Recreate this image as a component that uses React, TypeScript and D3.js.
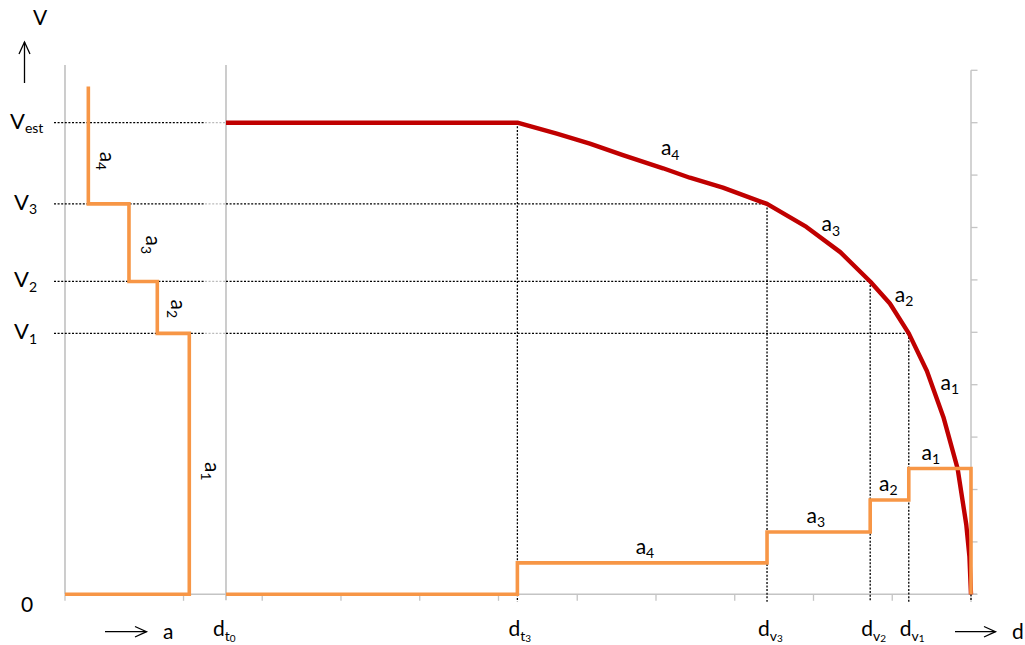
import React from "react";
import * as d3 from "d3";

// ---- data ----
const speedNames = ["est", "3", "2", "1"];
const speedValues = [9.0, 7.45, 5.97, 4.98];
const markNames = ["t3", "v3", "v2", "v1"];
const markD = [3.7, 6.87, 8.18, 8.67];
const dEnd = 9.46;
const accelNames = ["4", "3", "2", "1"];
const accelLevels = [0.6, 1.19, 1.8, 2.4];
const leftStepA = [0.445, 1.22, 1.76, 2.37];
const leftTopV = 9.69;
const curveD = [0, 3.7, 4.2, 4.62, 5.04, 5.55, 5.89, 6.31, 6.87, 7.37, 7.8, 8.18, 8.43, 8.67, 8.9, 9.11, 9.29, 9.4, 9.44, 9.46];
const curveV = [9.0, 9.0, 8.79, 8.6, 8.38, 8.13, 7.95, 7.76, 7.45, 7.01, 6.53, 5.97, 5.55, 4.98, 4.26, 3.38, 2.4, 1.33, 0.72, 0];
const dTicks = [0.46, 1.46, 2.46, 3.46, 4.46, 5.46, 6.46, 7.46, 8.46, 9.46];
const aTicks = [0, 2.26];
const vTicks = [0, 1, 2, 3, 4, 5, 6, 7, 8, 9, 10];

const FONT = "Lato, 'Open Sans', sans-serif";
const RED = "#C00000";
const ORANGE = "#F79646";
const GRAY = "#C4C4C4";

const y = d3.scaleLinear().domain([0, 10]).range([594.3, 70.3]);
const xd = d3.scaleLinear().domain([0, dEnd]).range([226, 971]);
const xa = d3.scaleLinear().domain([0, 3.07]).range([65, 226]);

const line = d3.line<[number, number]>().x((p) => p[0]).y((p) => p[1]);

function Sub({ x, y: yy, main, sub, sub2, anchor = "start", size = 21 }: any) {
  return (
    <text x={x} y={yy} fontFamily={FONT} fontSize={size} fill="#000" textAnchor={anchor}>
      {main}
      <tspan dy={4.5} fontSize={14}>{sub}</tspan>
      {sub2 ? <tspan dy={1.5} fontSize={10}>{sub2}</tspan> : null}
    </text>
  );
}

export default function App() {
  const redPts: [number, number][] = curveD.map((d, i) => [xd(d), y(curveV[i])]);

  const orangePts: [number, number][] = [[xd(0), y(0)], [xd(markD[0]), y(0)]];
  accelLevels.forEach((lv, i) => {
    const x0 = xd(markD[i]);
    const x1 = i < markD.length - 1 ? xd(markD[i + 1]) : xd(dEnd);
    orangePts.push([x0, y(lv)], [x1, y(lv)]);
  });
  orangePts.push([xd(dEnd), y(0)]);

  const uppers = [leftTopV, speedValues[1], speedValues[2], speedValues[3]];
  const lowers = [speedValues[1], speedValues[2], speedValues[3], 0];
  const leftPts: [number, number][] = [];
  leftStepA.forEach((a, i) => {
    leftPts.push([xa(a), y(uppers[i])], [xa(a), y(lowers[i])]);
  });
  leftPts.push([xa(0), y(0)]);

  const markV = speedValues;
  const dotted = { stroke: "#000", strokeWidth: 1.3, strokeDasharray: "2 1.6", fill: "none" };
  const fadeDotted = { stroke: "#BBBBBB", strokeWidth: 1.3, strokeDasharray: "2 1.6", fill: "none" };

  return (
    <svg width={1025} height={645} style={{ position: "absolute", left: 0, top: 0, background: "#fff" }}>
      <line x1={xa(0)} x2={xa(0)} y1={y(10.1)} y2={y(0)} stroke={GRAY} strokeWidth={1.7} />
      <line x1={xd(0)} x2={xd(0)} y1={y(10.1)} y2={y(0) + 6} stroke={GRAY} strokeWidth={1.7} />
      <line x1={xd(dEnd)} x2={xd(dEnd)} y1={y(10)} y2={y(0)} stroke={GRAY} strokeWidth={1.5} />
      {vTicks.map((v) => (
        <line key={"vt" + v} x1={xd(dEnd)} x2={xd(dEnd) + 6.5} y1={y(v)} y2={y(v)} stroke={GRAY} strokeWidth={1.3} />
      ))}
      <line x1={xa(0)} x2={xd(dEnd) + 6} y1={y(0)} y2={y(0)} stroke={GRAY} strokeWidth={1.5} />
      {aTicks.map((a) => (
        <line key={"at" + a} x1={xa(a)} x2={xa(a)} y1={y(0)} y2={y(0) + 6.5} stroke={GRAY} strokeWidth={1.3} />
      ))}
      {dTicks.map((d) => (
        <line key={"dt" + d} x1={xd(d)} x2={xd(d)} y1={y(0)} y2={y(0) + 6.5} stroke={GRAY} strokeWidth={1.3} />
      ))}

      {speedValues.map((v, i) => (
        <g key={"h" + i}>
          <line x1={54} x2={205} y1={y(v)} y2={y(v)} {...dotted} />
          <line x1={205} x2={xd(0)} y1={y(v)} y2={y(v)} {...fadeDotted} />
          {i > 0 ? <line x1={xd(0)} x2={xd(markD[i])} y1={y(v)} y2={y(v)} {...dotted} /> : null}
        </g>
      ))}
      {markD.map((d, i) => (
        <line key={"v" + i} x1={xd(d)} x2={xd(d)} y1={y(markV[i])} y2={y(0) + 7.5} {...dotted} />
      ))}
      <line x1={xd(dEnd)} x2={xd(dEnd)} y1={y(0)} y2={y(0) + 7.5} {...dotted} />

      <path d={line(leftPts) || ""} fill="none" stroke={ORANGE} strokeWidth={3.6} strokeLinejoin="miter" />
      <path d={line(redPts) || ""} fill="none" stroke={RED} strokeWidth={4.4} strokeLinejoin="round" />
      <path d={line(orangePts) || ""} fill="none" stroke={ORANGE} strokeWidth={3.6} strokeLinejoin="miter" />

      <text x={33} y={25} fontFamily={FONT} fontSize={21}>V</text>
      <line x1={24.5} x2={24.5} y1={83} y2={42} stroke="#000" strokeWidth={1.3} />
      <path d="M19,54 L24.5,42 L30,54" fill="none" stroke="#000" strokeWidth={1.3} />

      {speedValues.map((v, i) => (
        <Sub key={"sl" + i} x={i === 0 ? 10 : 14} y={y(v) + 6} main="V" sub={speedNames[i]} size={22} />
      ))}
      <text x={21} y={612} fontFamily={FONT} fontSize={21}>0</text>

      <line x1={105} x2={146.5} y1={631.7} y2={631.7} stroke="#000" strokeWidth={1.3} />
      <path d="M135,626.5 L146.5,631.7 L135,637" fill="none" stroke="#000" strokeWidth={1.3} />
      <text x={163} y={639} fontFamily={FONT} fontSize={21}>a</text>
      <Sub x={xd(0) - 13} y={636} main="d" sub="t" sub2="0" />
      {markD.map((d, i) => (
        <Sub key={"ml" + i} x={xd(d) - 9} y={636} main="d" sub={markNames[i][0]} sub2={markNames[i].slice(1)} />
      ))}
      <line x1={955} x2={995.5} y1={631.7} y2={631.7} stroke="#000" strokeWidth={1.3} />
      <path d="M984,626.5 L995.5,631.7 L984,637" fill="none" stroke="#000" strokeWidth={1.3} />
      <text x={1012} y={639} fontFamily={FONT} fontSize={21}>d</text>

      {[
        [12, 8.27],
        [17, 6.67],
        [14, 5.45],
        [16, 2.35],
      ].map(([dx, vy], i) => (
        <g key={"la" + i} transform={`translate(${xa(leftStepA[i]) + dx},${y(vy)}) rotate(90)`}>
          <Sub x={0} y={0} main="a" sub={accelNames[i]} anchor="middle" />
        </g>
      ))}

      {[5.32, 7.49, 8.41, 8.95].map((d, i) => (
        <Sub key={"oa" + i} x={xd(d)} y={y(accelLevels[i]) - 9} main="a" sub={accelNames[i]} anchor="middle" />
      ))}
      {[
        [5.64, 8.38],
        [7.68, 6.93],
        [8.61, 5.58],
        [9.19, 3.9],
      ].map(([d, v], i) => (
        <Sub key={"ra" + i} x={xd(d)} y={y(v)} main="a" sub={accelNames[i]} anchor="middle" />
      ))}
    </svg>
  );
}
